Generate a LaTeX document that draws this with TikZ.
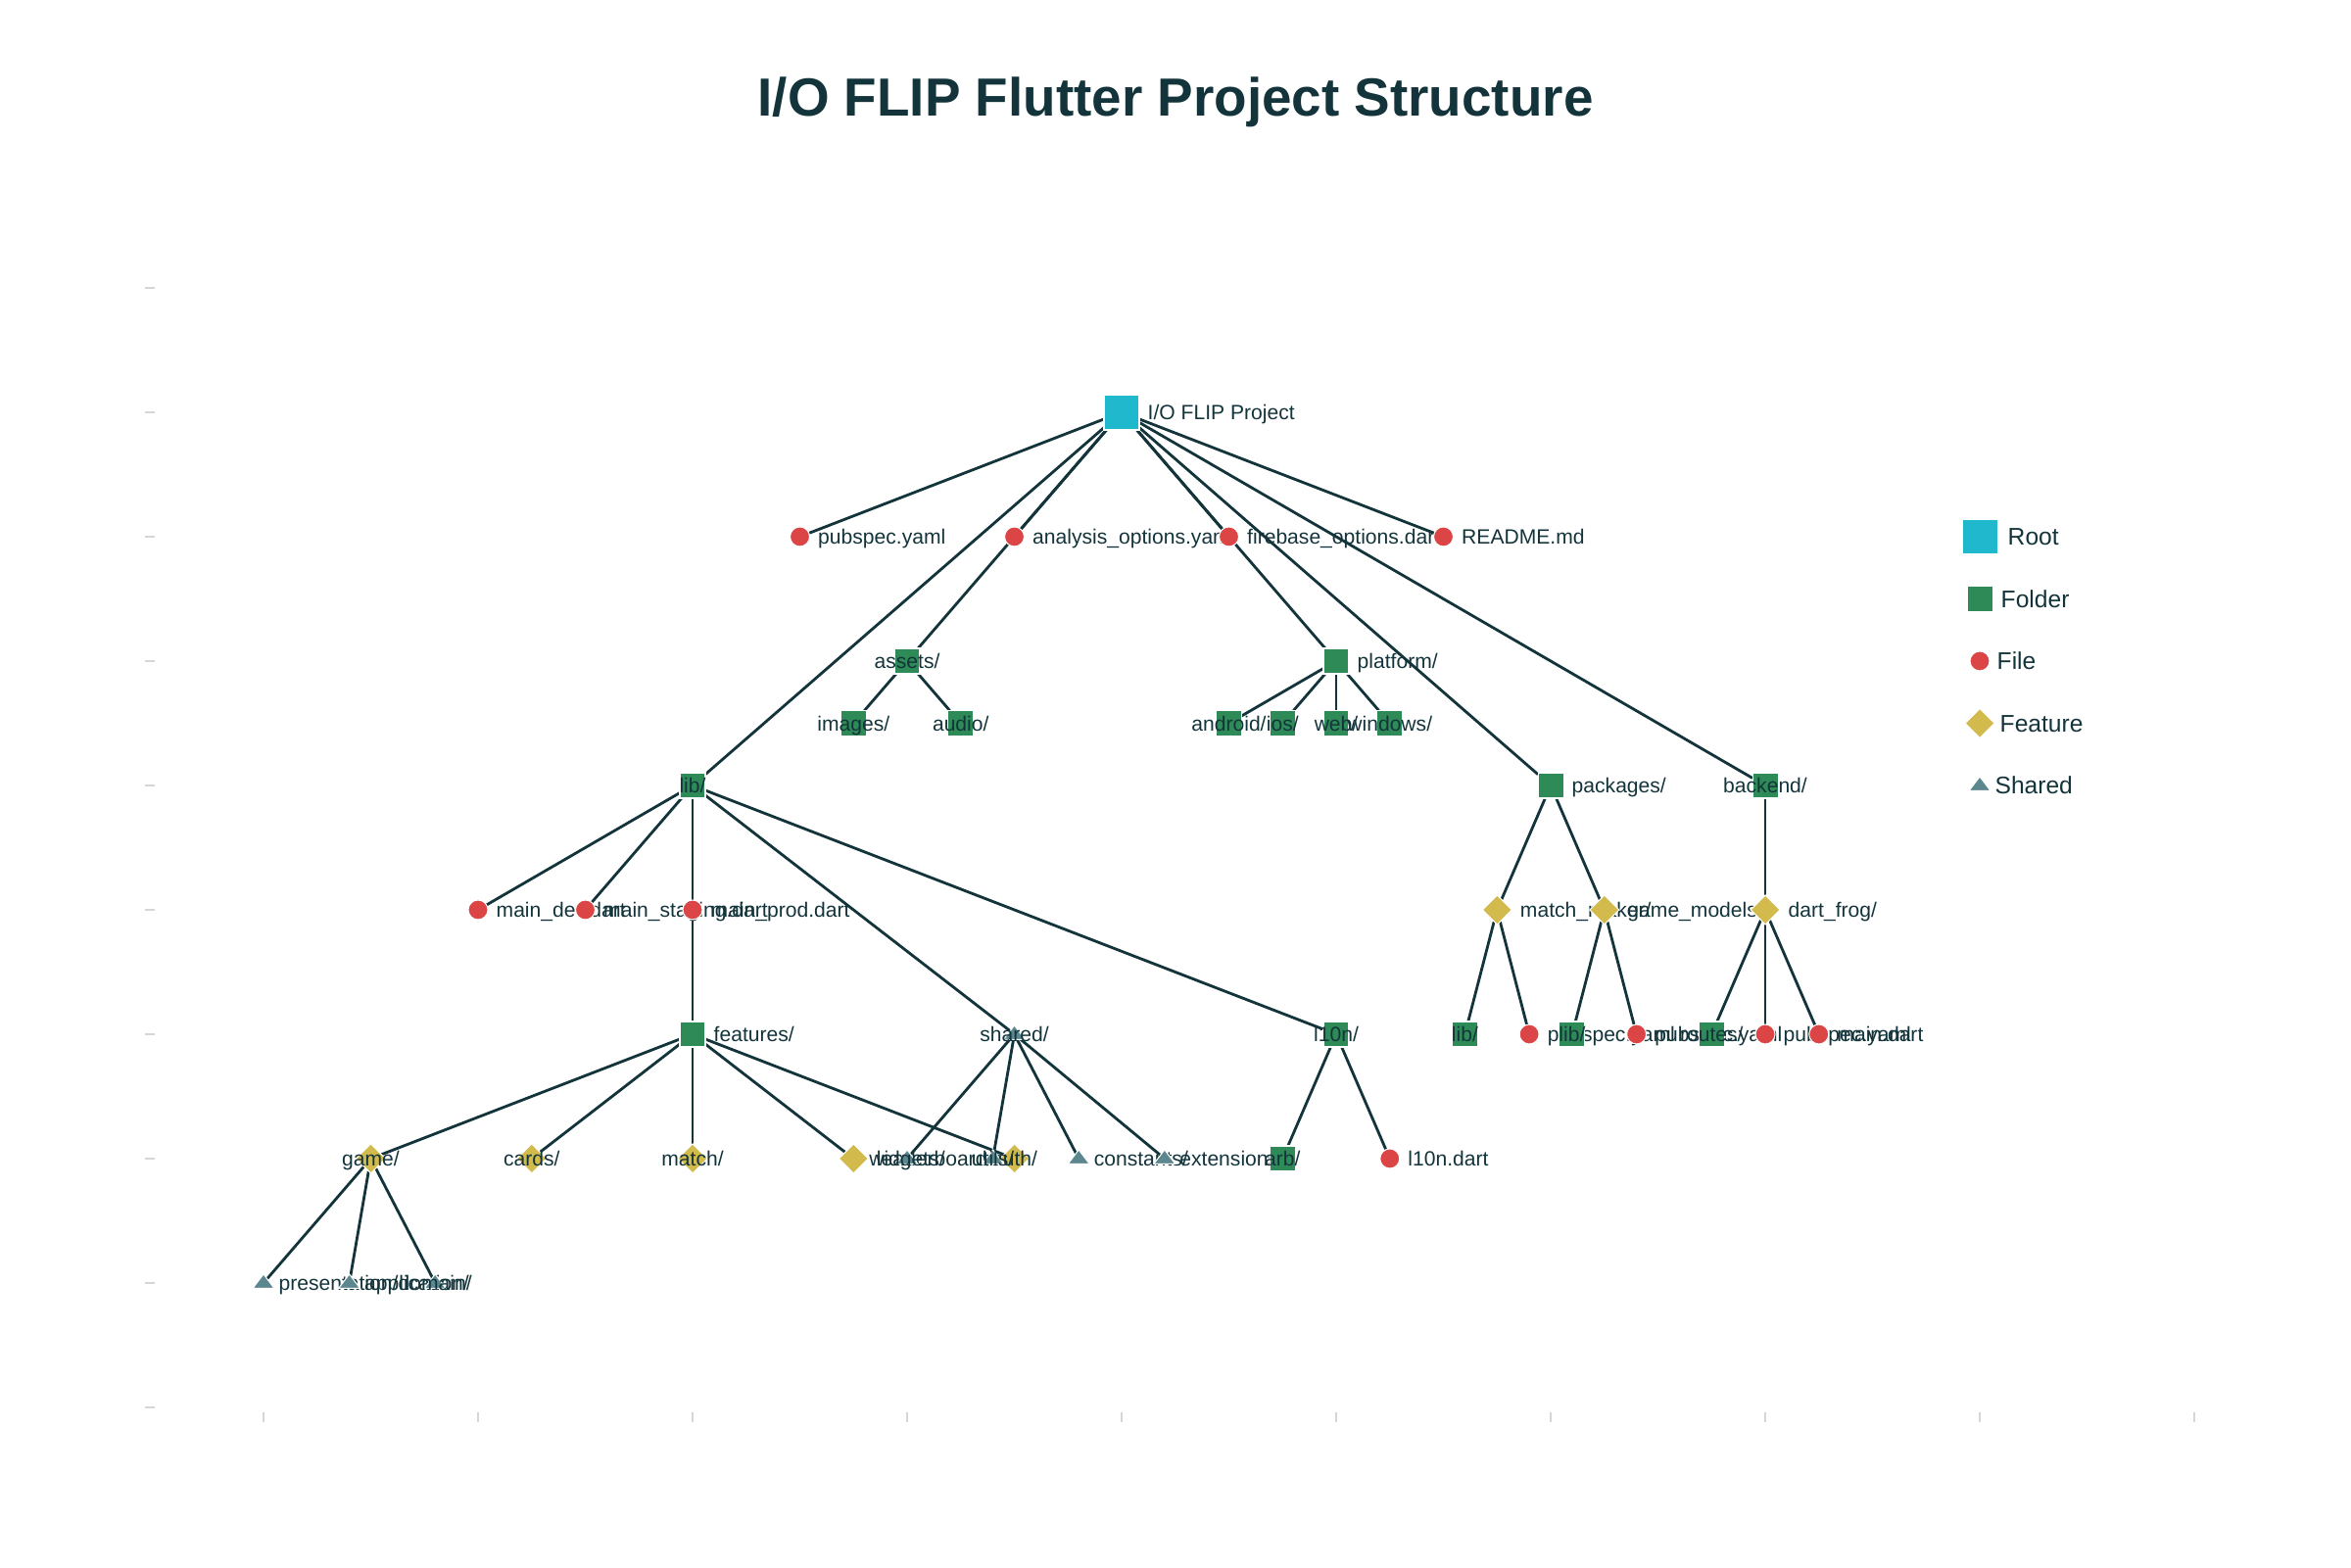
\documentclass[tikz,border=0pt]{standalone}
\usepackage{fontspec}
\setmainfont{Liberation Sans}
\usetikzlibrary{shapes.geometric, backgrounds}

\definecolor{rootcol}{HTML}{1FB8CD}
\definecolor{foldercol}{HTML}{2E8B57}
\definecolor{filecol}{HTML}{DB4545}
\definecolor{featcol}{HTML}{D2BA4C}
\definecolor{sharedcol}{HTML}{5D878F}
\definecolor{inkcol}{HTML}{13343B}
\definecolor{tickcol}{HTML}{D6D6D6}

\begin{document}
\begin{tikzpicture}[
  x=2.19cm, y=1.27cm,
  % Marker Styles
  marker/.style={draw=white, line width=0.3pt, inner sep=0pt, outer sep=0pt},
  rootnode/.style={marker, rectangle, fill=rootcol, minimum size=0.36cm},
  foldernode/.style={marker, rectangle, fill=foldercol, minimum size=0.26cm},
  filenode/.style={marker, circle, fill=filecol, minimum size=0.2cm},
  featnode/.style={marker, diamond, fill=featcol, minimum size=0.3cm},
  sharednode/.style={marker, isosceles triangle, isosceles triangle stretches, shape border rotate=90,
    minimum width=0.22cm, minimum height=0.145cm, fill=sharedcol},
  % Text Styles
  lbl/.style={font=\fontsize{6}{7}\selectfont, text=inkcol, inner sep=0pt, text height=4.3pt, text depth=0pt},
  rl/.style={label={[lbl, label distance=0.08cm]right:{#1}}},
  cl/.style={label={[lbl]center:{#1}}},
  leglbl/.style={font=\fontsize{7}{8.4}\selectfont, text=inkcol, inner sep=0pt, text height=5pt, text depth=0pt},
  titlelbl/.style={font=\fontsize{15.6}{18}\selectfont\bfseries, text=inkcol, inner sep=0pt, text height=11.2pt, text depth=0pt},
  % Line Styles
  edge/.style={draw=inkcol, line width=0.8pt},
  axistick/.style={draw=tickcol, line width=0.35pt}
]
\useasboundingbox (-2.69cm,-1.63cm) rectangle (21.31cm,14.37cm);

\node[titlelbl] (title) at (9.31cm,13.38cm) {I/O FLIP Flutter Project Structure};

% Axis ticks
\foreach \k in {0,...,9} {
  \draw[axistick] ([xshift=-1.21cm]0,\k) -- ([xshift=-1.11cm]0,\k);
  \draw[axistick] ([yshift=-0.05cm]\k,0) -- ([yshift=-0.15cm]\k,0);
}

% Root and top level files
\node[rootnode, rl={I/O FLIP Project}] (root) at (4,8) {};
\node[filenode, rl={pubspec.yaml}] (pubspec) at (2.5,7) {};
\node[filenode, rl={analysis\_options.yaml}] (analysis) at (3.5,7) {};
\node[filenode, rl={firebase\_options.dart}] (firebase) at (4.5,7) {};
\node[filenode, rl={README.md}] (readme) at (5.5,7) {};

% lib/
\node[foldernode, cl={lib/}] (lib) at (2,5) {};
\node[filenode, rl={main\_dev.dart}] (maindev) at (1,4) {};
\node[filenode, rl={main\_staging.dart}] (mainstaging) at (1.5,4) {};
\node[filenode, rl={main\_prod.dart}] (mainprod) at (2,4) {};
\node[foldernode, rl={features/}] (features) at (2,3) {};
\node[featnode, cl={game/}] (game) at (0.5,2) {};
\node[sharednode, rl={presentation/}] (presentation) at (0,1) {};
\node[sharednode, rl={application/}] (application) at (0.4,1) {};
\node[sharednode, cl={domain/}] (domain) at (0.8,1) {};
\node[featnode, cl={cards/}] (cards) at (1.25,2) {};
\node[featnode, cl={match/}] (match) at (2,2) {};
\node[featnode, rl={leaderboard/}] (leaderboard) at (2.75,2) {};
\node[featnode, cl={auth/}] (auth) at (3.5,2) {};
\node[sharednode, cl={shared/}] (shared) at (3.5,3) {};
\node[sharednode, cl={widgets/}] (widgets) at (3.0,2) {};
\node[sharednode, cl={utils/}] (utils) at (3.4,2) {};
\node[sharednode, rl={constants/}] (constants) at (3.8,2) {};
\node[sharednode, rl={extensions/}] (extensions) at (4.2,2) {};
\node[foldernode, cl={l10n/}] (lten) at (5,3) {};
\node[foldernode, cl={arb/}] (arb) at (4.75,2) {};
\node[filenode, rl={l10n.dart}] (ltendart) at (5.25,2) {};

% assets/ and platform/
\node[foldernode, cl={assets/}] (assets) at (3,6) {};
\node[foldernode, cl={images/}] (images) at (2.75,5.5) {};
\node[foldernode, cl={audio/}] (audio) at (3.25,5.5) {};
\node[foldernode, rl={platform/}] (platform) at (5,6) {};
\node[foldernode, cl={android/}] (android) at (4.5,5.5) {};
\node[foldernode, cl={ios/}] (ios) at (4.75,5.5) {};
\node[foldernode, cl={web/}] (web) at (5,5.5) {};
\node[foldernode, cl={windows/}] (windows) at (5.25,5.5) {};

% packages/
\node[foldernode, rl={packages/}] (packages) at (6,5) {};
\node[featnode, rl={match\_maker/}] (matchmaker) at (5.75,4) {};
\node[foldernode, cl={lib/}] (mmlib) at (5.6,3) {};
\node[filenode, rl={pubspec.yaml}] (mmpubspec) at (5.9,3) {};
\node[featnode, rl={game\_models/}] (gamemodels) at (6.25,4) {};
\node[foldernode, cl={lib/}] (gmlib) at (6.1,3) {};
\node[filenode, rl={pubspec.yaml}] (gmpubspec) at (6.4,3) {};

% backend/
\node[foldernode, cl={backend/}] (backend) at (7,5) {};
\node[featnode, rl={dart\_frog/}] (dartfrog) at (7,4) {};
\node[foldernode, cl={routes/}] (routes) at (6.75,3) {};
\node[filenode, rl={pubspec.yaml}] (dfpubspec) at (7,3) {};
\node[filenode, rl={main.dart}] (dfmain) at (7.25,3) {};

% Edges
\begin{scope}[on background layer]
\foreach \a/\b in {root/pubspec, root/analysis, root/firebase, root/readme,
    root/lib, root/assets, root/platform, root/packages, root/backend,
    lib/maindev, lib/mainstaging, lib/mainprod, lib/features, lib/shared, lib/lten,
    features/game, features/cards, features/match, features/leaderboard, features/auth,
    game/presentation, game/application, game/domain,
    shared/widgets, shared/utils, shared/constants, shared/extensions,
    lten/arb, lten/ltendart, assets/images, assets/audio,
    platform/android, platform/ios, platform/web, platform/windows,
    packages/matchmaker, packages/gamemodels, matchmaker/mmlib, matchmaker/mmpubspec,
    gamemodels/gmlib, gamemodels/gmpubspec, backend/dartfrog,
    dartfrog/routes, dartfrog/dfpubspec, dartfrog/dfmain}
  \draw[edge] (\a) -- (\b);
\end{scope}

% Legend
\node[rootnode, label={[leglbl, label distance=0.1cm]right:Root}] (legroot) at (8,7) {};
\node[foldernode, label={[leglbl, label distance=0.08cm]right:Folder}] (legfolder) at (8,6.5) {};
\node[filenode, label={[leglbl, label distance=0.07cm]right:File}] (legfile) at (8,6) {};
\node[featnode, label={[leglbl, label distance=0.05cm]right:Feature}] (legfeat) at (8,5.5) {};
\node[sharednode, label={[leglbl, label distance=0.08cm]right:Shared}] (legshared) at (8,5) {};

\end{tikzpicture}
\end{document}
